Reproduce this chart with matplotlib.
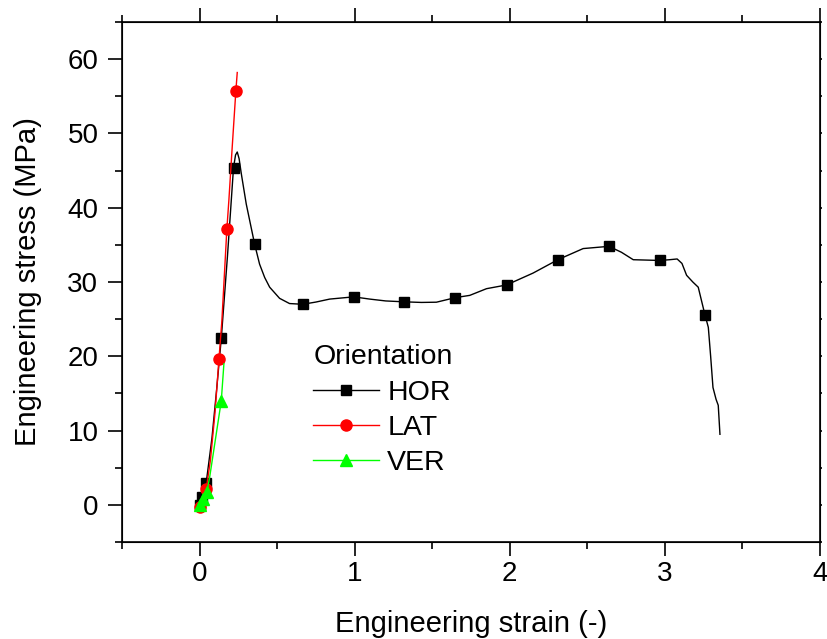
import matplotlib
matplotlib.use('agg')
import matplotlib.pyplot as plt
from matplotlib.ticker import MultipleLocator

plt.rcParams['font.family'] = ['Liberation Sans', 'DejaVu Sans']

# HOR curve (strain, stress)
hor_strain = [0, 0.015, 0.043, 0.08, 0.11, 0.14, 0.18, 0.219, 0.232, 0.243,
              0.255, 0.269, 0.301, 0.355, 0.387, 0.42, 0.452, 0.516, 0.58, 0.665,
              0.75, 0.839, 0.994, 1.097, 1.2, 1.32, 1.43, 1.527, 1.65, 1.742,
              1.85, 1.979, 2.15, 2.31, 2.473, 2.639, 2.72, 2.796, 2.968, 3.03,
              3.079, 3.11, 3.14, 3.18, 3.215, 3.258, 3.28, 3.295, 3.31, 3.33,
              3.344, 3.355]
hor_stress = [0, 1.1, 3.0, 9.0, 15.5, 22.4, 33.5, 45.4, 47.1, 47.5,
              46.6, 44.6, 40.5, 35.1, 32.4, 30.6, 29.3, 27.8, 27.1, 27.0,
              27.3, 27.7, 28.0, 27.7, 27.45, 27.33, 27.25, 27.28, 27.9, 28.2,
              29.1, 29.6, 31.2, 33.0, 34.5, 34.8, 34.0, 33.0, 32.9, 33.0,
              33.1, 32.5, 30.9, 30.0, 29.3, 25.6, 23.9, 20.0, 15.8, 14.2,
              13.4, 9.5]
hor_marks = [0, 0.015, 0.043, 0.14, 0.219, 0.355, 0.665, 0.994, 1.32, 1.65,
             1.979, 2.31, 2.639, 2.968, 3.258]

lat_strain = [0, 0.02, 0.043, 0.07, 0.1, 0.125, 0.144, 0.176, 0.189, 0.21, 0.234, 0.243]
lat_stress = [-0.3, 0.8, 2.1, 6.0, 12.5, 19.6, 24.8, 37.1, 41.0, 48.0, 55.7, 58.2]
lat_marks = [0, 0.043, 0.125, 0.176, 0.234]

ver_strain = [0, 0.021, 0.047, 0.065, 0.1, 0.14, 0.157]
ver_stress = [0, 0.77, 1.75, 3.7, 8.5, 14.0, 19.0]
ver_marks = [0, 0.021, 0.047, 0.14]

fig = plt.figure(figsize=(8.27, 6.39), dpi=100)
ax = fig.add_axes([122/827, 1-542/639, 698/827, 520/639])

ax.plot(hor_strain, hor_stress, color='black', lw=1.0, marker='s', ms=7.5,
        markevery=[hor_strain.index(s) for s in hor_marks], label='HOR')
ax.plot(lat_strain, lat_stress, color='#ff0000', lw=1.0, marker='o', ms=8,
        markevery=[lat_strain.index(s) for s in lat_marks], label='LAT')
ax.plot(ver_strain, ver_stress, color='#00ff00', lw=1.0, marker='^', ms=8.5,
        markevery=[ver_strain.index(s) for s in ver_marks], label='VER')

ax.set_xlim(-0.5, 4)
ax.set_ylim(-5, 65)
ax.xaxis.set_major_locator(MultipleLocator(1))
ax.xaxis.set_minor_locator(MultipleLocator(0.5))
ax.yaxis.set_major_locator(MultipleLocator(10))
ax.yaxis.set_minor_locator(MultipleLocator(5))

for s in ax.spines.values():
    s.set_linewidth(1.2)
ax.tick_params(axis='both', which='both', direction='out', width=1.2, labelsize=20)
ax.tick_params(axis='x', which='both', top=True)
ax.tick_params(which='major', length=10)
ax.tick_params(which='minor', length=5)
ax.tick_params(axis='x', pad=4)
ax.tick_params(axis='y', pad=7)

# tiny ticks on the right side
ax2 = ax.twinx()
ax2.set_ylim(-5, 65)
ax2.yaxis.set_major_locator(MultipleLocator(5))
ax2.tick_params(axis='y', length=1.5, width=1.2, labelright=False)

ax.set_xlabel('Engineering strain (-)', fontsize=21, labelpad=16)
ax.set_ylabel('Engineering stress (MPa)', fontsize=21, labelpad=18)

leg = ax.legend(loc='upper left', bbox_to_anchor=(309/827, 1-340/639),
                bbox_transform=fig.transFigure, frameon=False, fontsize=20.5,
                title='Orientation', title_fontsize=20.5, alignment='left',
                handlelength=2.3, handletextpad=0.3, labelspacing=0.33,
                borderpad=0.15, borderaxespad=0)

fig.savefig('out.png', dpi=100)
